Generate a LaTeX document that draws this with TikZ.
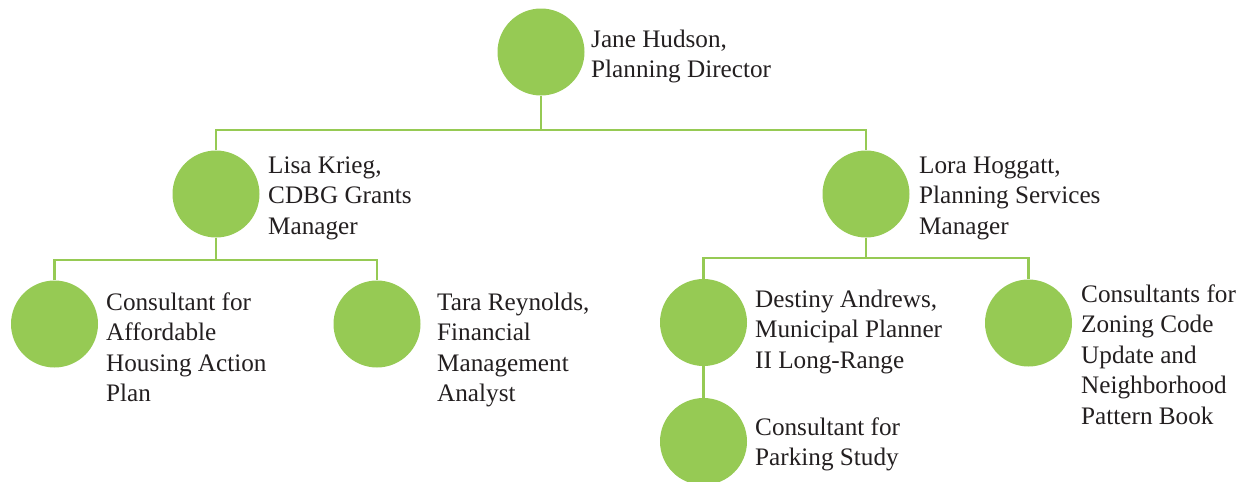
\documentclass[tikz,border=0pt]{standalone}
\usepackage{fontspec}
\setmainfont{Liberation Serif}
\definecolor{orggreen}{RGB}{150,202,84}
\definecolor{orgtext}{RGB}{35,31,32}
\newcommand{\orglines}[1]{\begin{tabular}[t]{@{}l@{}}#1\end{tabular}}
\begin{document}
\begin{tikzpicture}[x=1pt,y=-1pt,
  person/.style={circle,fill=orggreen,draw=none,minimum size=87pt,inner sep=0pt},
  caption/.style={anchor=base west,inner sep=0pt,text=orgtext,font=\fontsize{25.2}{30.5}\selectfont},
  link/.style={draw=orggreen,line width=2.2pt}]
\useasboundingbox (0,0) rectangle (1248,482);
% circles
\node[person] (jane) at (541,52) {};
\node[person] (lisa) at (216,194) {};
\node[person] (lora) at (866,194) {};
\node[person] (ahap) at (54.5,324) {};
\node[person] (tara) at (377,324) {};
\node[person] (destiny) at (703.5,322.5) {};
\node[person] (zoning) at (1028.5,323) {};
\node[person] (parking) at (703.5,441.5) {};
% labels
\node[caption] (tjane) at (591,47) {\orglines{Jane Hudson,\\Planning Director}};
\node[caption] (tlisa) at (268,173) {\orglines{Lisa Krieg,\\CDBG Grants\\Manager}};
\node[caption] (tlora) at (919,173) {\orglines{Lora Hoggatt,\\Planning Services\\Manager}};
\node[caption] (tahap) at (106,310) {\orglines{Consultant for\\Affordable\\Housing Action\\Plan}};
\node[caption] (ttara) at (437,310) {\orglines{Tara Reynolds,\\Financial\\Management\\Analyst}};
\node[caption] (tdestiny) at (755,307) {\orglines{Destiny Andrews,\\Municipal Planner\\II Long-Range}};
\node[caption] (tzoning) at (1081,302) {\orglines{Consultants for\\Zoning Code\\Update and\\Neighborhood\\Pattern Book}};
\node[caption] (tparking) at (755,435) {\orglines{Consultant for\\Parking Study}};
% junctions
\coordinate (jj) at (541,130);
\coordinate (jl) at (216,260);
\coordinate (jr) at (866,258);
% connectors
\draw[link] (jane.south) -- (jj);
\draw[link] (lisa.north) |- (jj) -| (lora.north);
\draw[link] (lisa.south) -- (jl);
\draw[link] (ahap.north) |- (jl) -| (tara.north);
\draw[link] (lora.south) -- (jr);
\draw[link] (destiny.north) |- (jr) -| (zoning.north);
\draw[link] (destiny.south) -- (parking.north);
\end{tikzpicture}
\end{document}
